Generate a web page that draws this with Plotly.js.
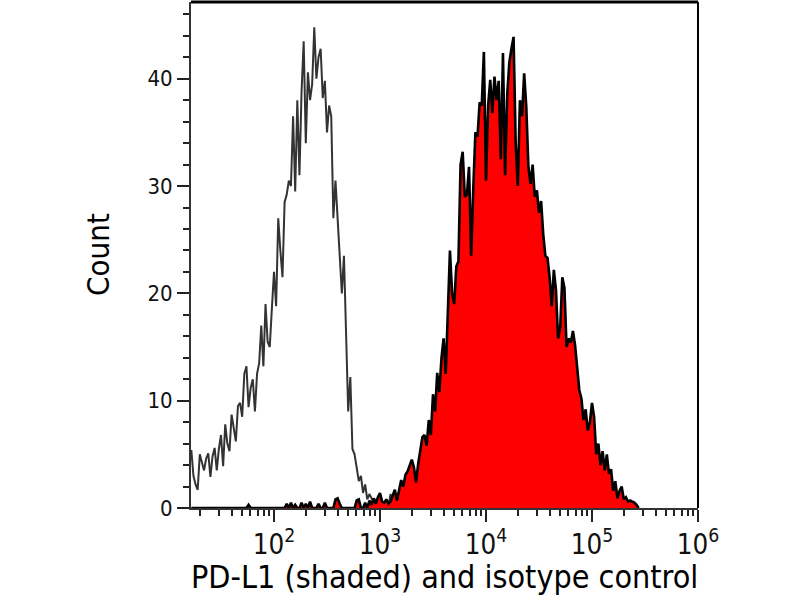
<!DOCTYPE html>
<html>
<head>
<meta charset="utf-8">
<script src="https://cdn.plot.ly/plotly-3.0.1.min.js"></script>
<style>
  html, body { margin:0; padding:0; background:#fff; }
  #chart { width:800px; height:600px; }
</style>
</head>
<body>
<div id="chart"></div>
<script>
// flow histogram: PD-L1 (shaded red) vs isotype control (grey line)

// channel grid (log10 of fluorescence), one value per channel
const channelLogStart = 1.22;
const channelLogStep = 0.02;

// isotype control counts, channel 0 onward
const isotypeCounts = [
  5.4, 3.0, 2.2, 1.7, 5.0, 4.3, 3.5, 4.6, 5.1, 2.9,
  4.8, 5.6, 3.5, 5.5, 6.8, 3.9, 7.8, 6.0, 5.3, 8.7,
  7.2, 6.2, 9.5, 9.8, 8.5, 12.5, 13.2, 9.4, 11.2, 12.0,
  9.0, 12.5, 13.5, 17.0, 13.2, 19.0, 15.5, 15.0, 18.6, 22.0,
  18.8, 27.0, 24.0, 21.5, 28.5, 29.2, 30.5, 30.0, 36.5, 29.5,
  38.0, 31.0, 38.8, 43.5, 34.0, 40.6, 38.0, 39.5, 44.8, 40.0,
  42.0, 42.8, 38.2, 39.8, 35.0, 37.5, 36.5, 27.0, 30.5, 26.8,
  22.5, 20.0, 23.5, 17.0, 9.0, 12.2, 5.5, 5.0, 3.5, 2.5,
  3.0, 1.4, 2.2, 0.8, 1.3, 0.9, 0.5, 0.8, 0.3, 1.0,
  0.5, 0.3, 0.6, 0.2, 1.3, 0.4, 0.9, 0.2, 0.5, 0
];

// PD-L1 stained counts, channel 0 onward
const pdl1Counts = [
  0, 0, 0, 0, 0, 0, 0, 0, 0, 0,
  0, 0, 0, 0, 0, 0, 0, 0, 0, 0,
  0, 0, 0, 0, 0, 0, 0, 0.3, 0, 0,
  0, 0, 0, 0, 0, 0, 0, 0, 0, 0,
  0, 0, 0, 0, 0, 0.4, 0, 0.5, 0, 0.3,
  0, 0, 0.5, 0, 0.4, 0, 0.6, 0, 0, 0,
  0.4, 0, 0, 0.5, 0, 0, 0, 0, 0.8, 0.9,
  0.4, 0, 0, 0, 0, 0, 0, 0, 0.7, 0.8,
  0, 0, 0.5, 0, 0.7, 0.3, 0.9, 0.4, 1.0, 1.4,
  0.6, 0.5, 0.8, 0.4, 0.6, 1.2, 1.7, 0.7, 1.8, 2.6,
  2.0, 3.1, 3.4, 3.9, 4.5, 3.8, 2.4, 4.1, 5.6, 6.6,
  6.8, 5.8, 8.2, 6.8, 10.6, 9.0, 12.6, 10.8, 14.0, 15.8,
  12.5, 18.8, 24.0, 20.0, 19.0, 22.5, 23.0, 32.0, 33.2, 29.0,
  29.2, 31.8, 23.5, 29.8, 35.0, 34.6, 37.8, 37.5, 42.5, 30.5,
  37.5, 39.9, 36.8, 40.2, 38.0, 39.8, 32.5, 42.4, 31.0, 38.5,
  41.5, 42.8, 43.9, 34.0, 30.0, 38.0, 36.5, 40.5, 37.4, 31.8,
  30.2, 32.0, 29.0, 29.6, 27.5, 28.6, 25.5, 23.5, 23.3, 21.5,
  18.8, 22.2, 20.3, 15.8, 16.8, 21.5, 20.5, 15.0, 15.8, 15.4,
  16.5, 15.2, 13.2, 11.0, 10.2, 8.2, 9.2, 7.2, 8.0, 9.8,
  8.5, 5.0, 6.0, 4.0, 5.3, 3.5, 5.0, 3.2, 3.6, 1.6,
  2.5, 0.9, 1.6, 2.0, 0.8, 1.0, 0.6, 0.7, 0.6, 0.5,
  0.3, 0
];

const xTitle = 'PD-L1 (shaded) and isotype control';
const yTitle = 'Count';

function channelX(n){
  const xs = [];
  for(let i=0;i<n;i++) xs.push(Math.pow(10, channelLogStart + i*channelLogStep));
  return xs;
}

const font = 'DejaVu Sans Condensed, DejaVu Sans, sans-serif';

const traces = [
  {
    x: channelX(isotypeCounts.length), y: isotypeCounts,
    type:'scatter', mode:'lines', name:'isotype control',
    line:{color:'#333333', width:2}, hoverinfo:'skip'
  },
  {
    x: channelX(pdl1Counts.length), y: pdl1Counts,
    type:'scatter', mode:'lines', name:'PD-L1',
    fill:'tozeroy', fillcolor:'#ff0000',
    line:{color:'#000000', width:2.6}, hoverinfo:'skip'
  }
];

const layout = {
  width:800, height:600,
  margin:{l:191, r:102, t:2, b:92},
  paper_bgcolor:'#ffffff', plot_bgcolor:'#ffffff',
  showlegend:false,
  font:{family:font, color:'#111111', size:20},
  xaxis:{
    type:'log', range:[1.217, 6], dtick:1, exponentformat:'power',
    showgrid:false, zeroline:false,
    showline:true, linecolor:'#333333', linewidth:2,
    ticks:'outside', ticklen:12, tickwidth:2, tickcolor:'#222222',
    tickfont:{family:font, size:22, color:'#111111'},
    minor:{ticks:'outside', ticklen:6, tickwidth:2, tickcolor:'#222222', showgrid:false}
  },
  yaxis:{
    range:[0, 47.15], dtick:10,
    showgrid:false, zeroline:false,
    showline:true, linecolor:'#333333', linewidth:2,
    ticks:'outside', ticklen:12, tickwidth:2, tickcolor:'#222222',
    tickfont:{family:font, size:22, color:'#111111'},
    minor:{ticks:'outside', dtick:2, ticklen:6, tickwidth:2, tickcolor:'#222222', showgrid:false}
  },
  annotations:[
    {text:xTitle, xref:'paper', yref:'paper', x:0.5, y:-0.136,
     xanchor:'center', yanchor:'middle', showarrow:false,
     font:{family:font, size:32, color:'#000000'}},
    {text:yTitle, xref:'paper', yref:'paper', x:-0.1834, y:0.5,
     xanchor:'center', yanchor:'middle', showarrow:false, textangle:-90,
     font:{family:font, size:31, color:'#000000'}}
  ],
  shapes:[
    {type:'line', xref:'paper', yref:'paper', x0:0, x1:1, y0:1, y1:1,
     line:{color:'#000000', width:3}, layer:'above'},
    {type:'line', xref:'paper', yref:'paper', x0:1, x1:1, y0:0, y1:1,
     line:{color:'#000000', width:2}, layer:'above'}
  ]
};

Plotly.newPlot('chart', traces, layout, {staticPlot:true, displayModeBar:false});
</script>
</body>
</html>
